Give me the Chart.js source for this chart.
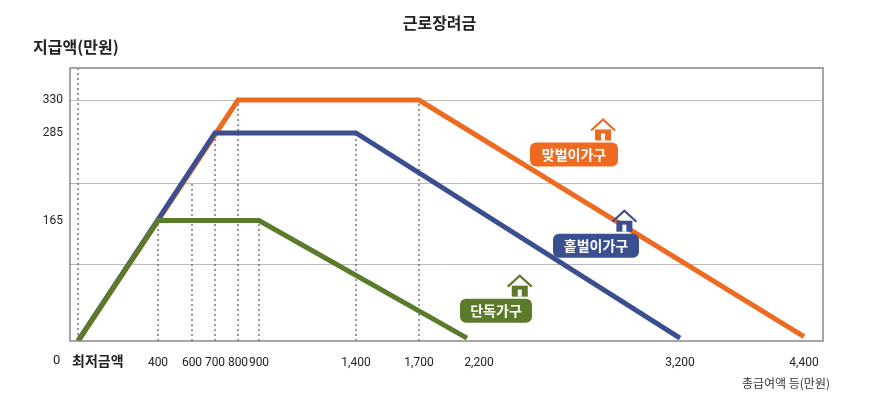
<!DOCTYPE html>
<html><head><meta charset="utf-8">
<script src="https://cdn.jsdelivr.net/npm/chart.js@4"></script>
<style>body{margin:0;background:#fff}#w{width:879px;height:410px}</style></head>
<body><div id="w"><canvas id="c"></canvas></div>
<script>
// income tick values and their (non-linear) axis positions as drawn in the reference
const xTickValues = [0, 400, 600, 700, 800, 900, 1400, 1700, 2200, 3200, 4400];
const xTickLabels = ['최저금액','400','600','700','800','900','1,400','1,700','2,200','3,200','4,400'];
const xTickPos    = [78, 158, 192, 215, 238, 259, 356, 419, 479, 680, 804];
const yTickValues = [165, 285, 330];
const gridValues  = [105, 216, 330];

const singleIncome = [0, 400, 900, 2100];
const singleAmount = [0, 165, 165, 4];
const oneIncome    = [0, 700, 1400, 3200];
const oneAmount    = [0, 285, 285, 4];
const twoIncome    = [0, 800, 1700, 4400];
const twoAmount    = [0, 330, 330, 6];

function pos(v){
  for(let i=0;i<xTickValues.length-1;i++){
    const a=xTickValues[i],b=xTickValues[i+1];
    if(v<=b){return xTickPos[i]+(v-a)/(b-a)*(xTickPos[i+1]-xTickPos[i]);}
  }
  return xTickPos[xTickPos.length-1];
}
const pts=(inc,amt)=>inc.map((v,i)=>({x:pos(v),y:amt[i]}));
const ORANGE='#ef6a21', BLUE='#3a4f8f', GREEN='#5b7a2b';
const NUMFONT='Roboto';

function house(ctx,x,y,col){
  ctx.save();ctx.strokeStyle=col;ctx.fillStyle=col;ctx.lineWidth=2.2;
  ctx.beginPath();ctx.moveTo(x-12,y);ctx.lineTo(x,y-11);ctx.lineTo(x+12,y);ctx.stroke();
  ctx.fillRect(x-8,y-1,16,11);
  ctx.fillStyle='#fff';ctx.fillRect(x-2,y+3,4,7);
  ctx.restore();
}
function tag(ctx,x,y,w,text,col){
  ctx.save();ctx.fillStyle=col;ctx.beginPath();ctx.roundRect(x,y,w,24,6);ctx.fill();
  ctx.fillStyle='#fff';ctx.font='bold 14px "Noto Sans CJK KR"';ctx.textAlign='center';ctx.textBaseline='middle';
  ctx.fillText(text,x+w/2,y+12);ctx.restore();
  house(ctx,x+w*0.83,y-12,col);
}
const deco={id:'deco',
  beforeDatasetsDraw(c){
    const {ctx,chartArea:a,scales:{x,y}}=c;
    ctx.save();ctx.strokeStyle='#555';ctx.lineWidth=1.2;ctx.setLineDash([2,3]);
    ctx.beginPath();ctx.moveTo(x.getPixelForValue(pos(0)),a.top);ctx.lineTo(x.getPixelForValue(pos(0)),a.bottom);ctx.stroke();
    const tops=[[400,165],[600,216],[700,285],[800,330],[900,165],[1400,285],[1700,330]];
    tops.forEach(([v,h])=>{const px=x.getPixelForValue(pos(v));ctx.beginPath();ctx.moveTo(px,a.bottom);ctx.lineTo(px,y.getPixelForValue(h));ctx.stroke();});
    ctx.restore();
  },
  afterDraw(c){
    const {ctx,chartArea:a,scales:{x,y}}=c;
    ctx.save();ctx.strokeStyle='#888';ctx.lineWidth=1.5;ctx.strokeRect(a.left,a.top,a.right-a.left,a.bottom-a.top);
    ctx.fillStyle='#222';ctx.font='bold 16px "Noto Sans CJK KR"';ctx.textAlign='center';ctx.textBaseline='middle';
    ctx.fillText('근로장려금',c.width/2,23);
    ctx.textAlign='left';ctx.fillText('지급액(만원)',33,47);
    ctx.font='bold 14px "Noto Sans CJK KR"';ctx.fillText(xTickLabels[0],72,361);
    ctx.font='13px '+NUMFONT;ctx.fillText('0',53,361);
    ctx.font='12px "Noto Sans CJK KR"';ctx.textAlign='right';ctx.fillStyle='#333';
    ctx.fillText('총급여액 등(만원)',830,383);
    ctx.restore();
    tag(ctx,x.getPixelForValue(530),y.getPixelForValue(272),88,'맞벌이가구',ORANGE);
    tag(ctx,x.getPixelForValue(553),y.getPixelForValue(147),86,'홑벌이가구',BLUE);
    tag(ctx,x.getPixelForValue(460),y.getPixelForValue(58),72,'단독가구',GREEN);
  }};
new Chart(document.getElementById('c'),{
  type:'line',
  data:{datasets:[
    {data:pts(singleIncome,singleAmount),borderColor:GREEN,borderWidth:5,order:1},
    {data:pts(oneIncome,oneAmount),borderColor:BLUE,borderWidth:5,order:2},
    {data:pts(twoIncome,twoAmount),borderColor:ORANGE,borderWidth:5,order:3}
  ]},
  options:{responsive:true,maintainAspectRatio:false,animation:false,
    layout:{padding:{top:68,right:56,left:0,bottom:0}},
    plugins:{legend:{display:false},tooltip:{enabled:false}},
    elements:{point:{radius:0},line:{tension:0,borderCapStyle:'butt'}},
    scales:{
      x:{type:'linear',min:70,max:823,border:{display:false},grid:{display:false},
        afterFit(s){s.height=69;},
        afterBuildTicks(s){s.ticks=xTickPos.map(v=>({value:v}));},
        ticks:{autoSkip:false,maxRotation:0,padding:7,color:'#222',
          callback:(v)=>{const i=xTickPos.indexOf(v);return i===0?'':xTickLabels[i];},
          font:{family:NUMFONT,size:12}}},
      y:{min:0,max:374,border:{display:false},
        afterFit(s){s.width=70;},
        afterBuildTicks(s){s.ticks=[...yTickValues,...gridValues].sort((a,b)=>a-b).filter((v,i,a)=>a.indexOf(v)===i).map(v=>({value:v}));},
        grid:{drawTicks:false,color:(ctx)=>gridValues.includes(ctx.tick.value)?'#bbb':'rgba(0,0,0,0)'},
        ticks:{padding:7,color:'#222',font:{family:NUMFONT,size:12},
          callback:(v)=>yTickValues.includes(v)?String(v):''}}
    }},
  plugins:[deco]
});
</script></body></html>
